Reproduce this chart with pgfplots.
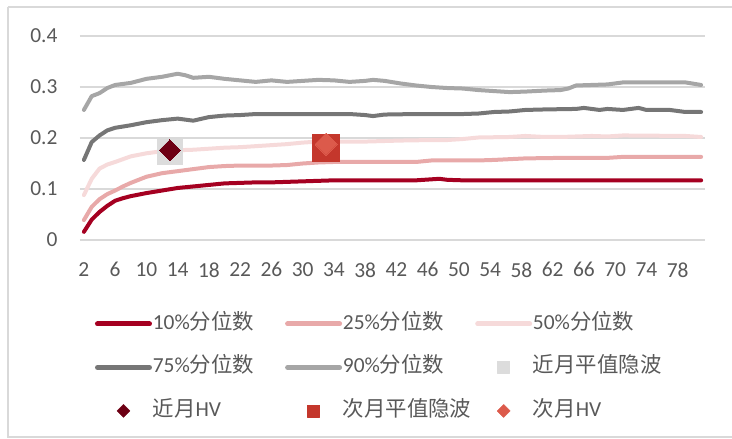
\documentclass[border=0pt]{standalone}
\usepackage{pgfplots}
\pgfplotsset{compat=1.18}
\usepackage{fontspec}
\setmainfont{Carlito}
\newfontfamily\cjk{Noto Sans CJK SC}
\definecolor{c10}{HTML}{A50021}
\definecolor{c25}{HTML}{E8A9A9}
\definecolor{c50}{HTML}{F6DADA}
\definecolor{c75}{HTML}{767676}
\definecolor{c90}{HTML}{A6A6A6}
\definecolor{nIV}{HTML}{DCDCDC}
\definecolor{nHV}{HTML}{6D0014}
\definecolor{sIV}{HTML}{C4372C}
\definecolor{sHV}{HTML}{DC5A4B}
\definecolor{gridc}{HTML}{D9D9D9}
\definecolor{txt}{HTML}{595959}
\begin{document}
\begin{tikzpicture}
\useasboundingbox (-80bp,-199bp) rectangle (652bp,240bp);
\draw[color=gridc, line width=1.5bp] (-72bp,233bp) -- (700bp,233bp);
\draw[color=gridc, line width=1.5bp] (-72bp,233bp) -- (-72bp,-197bp) -- (700bp,-197bp);
\begin{axis}[
  at={(0,0)}, anchor=south west,
  scale only axis, width=625bp, height=204bp,
  xmin=1.5, xmax=81.5, ymin=0, ymax=0.4,
  xtick={2,6,...,78}, ytick={0,0.1,0.2,0.3,0.4},
  ymajorgrids, grid style={color=gridc, line width=1.5bp},
  axis line style={draw=none}, major tick length=0,
  tick label style={font=\fontsize{21.5}{24}\selectfont, text=txt},
  xticklabel style={yshift=-19bp},
  yticklabel style={xshift=-19bp},
  /pgf/number format/assume math mode=true,
  clip=false,
  every axis plot/.append style={line join=round, line cap=round},
  legend columns=3,
  legend cell align=left,
  legend style={at={(axis description cs:0.0208,-0.365)}, anchor=north west,
    draw=none, fill=none, inner sep=0pt, outer sep=0pt,
    font=\fontsize{21.5}{24}\selectfont, text=txt, row sep=24.5bp,
    nodes={inner sep=0pt, text height=15bp, text depth=4bp},
    /tikz/every even column/.append style={column sep=10.3bp},
    /tikz/every odd column/.append style={column sep=-1.2bp}},
]
\pgfplotsset{linelegend/.style={legend image code/.code={\path (0bp,0bp) (57bp,0bp); \draw[##1,line width=5bp] (2.5bp,0bp) -- (54.5bp,0bp);}}}
% 10%
\addplot[c10, line width=4bp, no markers, linelegend] coordinates {
(2,0.016)(3,0.040)(4,0.055)(5,0.067)(6,0.077)(7,0.082)(8,0.086)(10,0.092)(12,0.097)(14,0.102)(16,0.105)(18,0.108)(20,0.111)(22,0.112)(24,0.113)(26,0.113)(28,0.114)(30,0.115)(32,0.116)(34,0.117)(36,0.117)(40.5,0.117)(44.5,0.117)(46.5,0.119)(47.5,0.120)(48.5,0.118)(50.5,0.117)(61,0.117)(71,0.117)(81,0.117)};
\addlegendentry{\makebox[120bp][l]{10\%{\cjk 分位数}}}
% 25%
\addplot[c25, line width=4bp, no markers, linelegend] coordinates {
(2,0.039)(3,0.065)(4,0.080)(5,0.090)(6,0.097)(7,0.105)(8,0.112)(10,0.124)(12,0.131)(14,0.135)(16,0.139)(18,0.143)(20,0.145)(22,0.146)(24,0.146)(26,0.146)(28,0.147)(30,0.150)(32,0.152)(34,0.153)(36,0.153)(40.5,0.153)(44.5,0.153)(46.5,0.156)(50.5,0.156)(52.5,0.156)(54.5,0.157)(58.5,0.160)(63,0.161)(67,0.161)(69,0.161)(71,0.163)(81,0.163)};
\addlegendentry{\makebox[120bp][l]{25\%{\cjk 分位数}}}
% 50%
\addplot[c50, line width=4bp, no markers, linelegend] coordinates {
(2,0.088)(3,0.120)(4,0.140)(5,0.148)(6,0.153)(8,0.164)(10,0.170)(12,0.174)(14,0.176)(16,0.177)(18,0.179)(20,0.181)(22,0.182)(24,0.184)(26,0.186)(28,0.188)(30,0.191)(32,0.193)(34,0.193)(38,0.193)(42.5,0.195)(46.5,0.196)(48.5,0.196)(50.5,0.198)(52.5,0.201)(56.5,0.202)(58.5,0.204)(61,0.202)(63,0.202)(65,0.203)(67,0.204)(69,0.203)(71,0.205)(79,0.204)(81,0.202)};
\addlegendentry{\makebox[120bp][l]{50\%{\cjk 分位数}}}
% 75%
\addplot[c75, line width=4bp, no markers, linelegend] coordinates {
(2,0.157)(3,0.192)(4,0.205)(5,0.215)(6,0.220)(8,0.225)(10,0.231)(12,0.235)(14,0.238)(15,0.236)(16,0.234)(18,0.241)(20,0.244)(22,0.245)(24,0.247)(30,0.247)(36,0.247)(38,0.245)(39,0.243)(40.5,0.246)(44.5,0.247)(50.5,0.247)(52.5,0.248)(54.5,0.251)(56.5,0.252)(58.5,0.255)(61,0.256)(65,0.257)(66,0.259)(68,0.255)(69,0.257)(71,0.255)(73,0.259)(74,0.255)(77,0.255)(79,0.251)(81,0.251)};
\addlegendentry{\makebox[120bp][l]{75\%{\cjk 分位数}}}
% 90%
\addplot[c90, line width=4bp, no markers, linelegend] coordinates {
(2,0.255)(3,0.282)(4,0.288)(5,0.298)(6,0.304)(8,0.308)(10,0.316)(12,0.320)(14,0.326)(15,0.323)(16,0.318)(18,0.320)(20,0.316)(22,0.313)(24,0.310)(26,0.313)(28,0.310)(30,0.312)(32,0.314)(34,0.313)(36,0.310)(38,0.312)(39,0.314)(40.5,0.312)(42.5,0.307)(44.5,0.303)(46.5,0.300)(48.5,0.298)(50.5,0.297)(52.5,0.294)(54.5,0.292)(56.5,0.290)(58.5,0.291)(61,0.293)(63,0.294)(64,0.297)(65,0.303)(67,0.304)(69,0.305)(71,0.309)(75,0.309)(79,0.309)(81,0.304)};
\addlegendentry{\makebox[120bp][l]{90\%{\cjk 分位数}}}
% near-month ATM IV
\addplot[only marks, color=nIV, mark=square*, mark size=12.5bp, mark options={fill=nIV, draw=nIV, line width=0pt},
  legend image code/.code={\path (0bp,0bp) (57bp,0bp); \fill[nIV] (22.5bp,-6bp) rectangle (34.5bp,6bp);}]
  coordinates {(13,0.1725)};
\addlegendentry{\makebox[120bp][l]{\cjk 近月平值隐波}}
% near-month HV
\addplot[only marks, color=nHV, mark=square*, mark size=7.4bp, mark options={fill=nHV, draw=nHV, line width=0pt, rotate=45},
  legend image code/.code={\path (0bp,0bp) (57bp,0bp); \fill[nHV] (28.5bp,6.5bp) -- (35bp,0bp) -- (28.5bp,-6.5bp) -- (22bp,0bp) -- cycle;}]
  coordinates {(13,0.176)};
\addlegendentry{\makebox[120bp][l]{{\cjk 近月}HV}}
% next-month ATM IV
\addplot[only marks, color=sIV, mark=square*, mark size=13.5bp, mark options={fill=sIV, draw=sIV, line width=0pt},
  legend image code/.code={\path (0bp,0bp) (57bp,0bp); \fill[sIV] (22.5bp,-6bp) rectangle (34.5bp,6bp);}]
  coordinates {(33,0.180)};
\addlegendentry{\makebox[120bp][l]{\cjk 次月平值隐波}}
% next-month HV
\addplot[only marks, color=sHV, mark=square*, mark size=7.8bp, mark options={fill=sHV, draw=sHV, line width=0pt, rotate=45},
  legend image code/.code={\path (0bp,0bp) (57bp,0bp); \fill[sHV] (28.5bp,6.5bp) -- (35bp,0bp) -- (28.5bp,-6.5bp) -- (22bp,0bp) -- cycle;}]
  coordinates {(33,0.188)};
\addlegendentry{\makebox[120bp][l]{{\cjk 次月}HV}}
\end{axis}
\end{tikzpicture}
\end{document}
